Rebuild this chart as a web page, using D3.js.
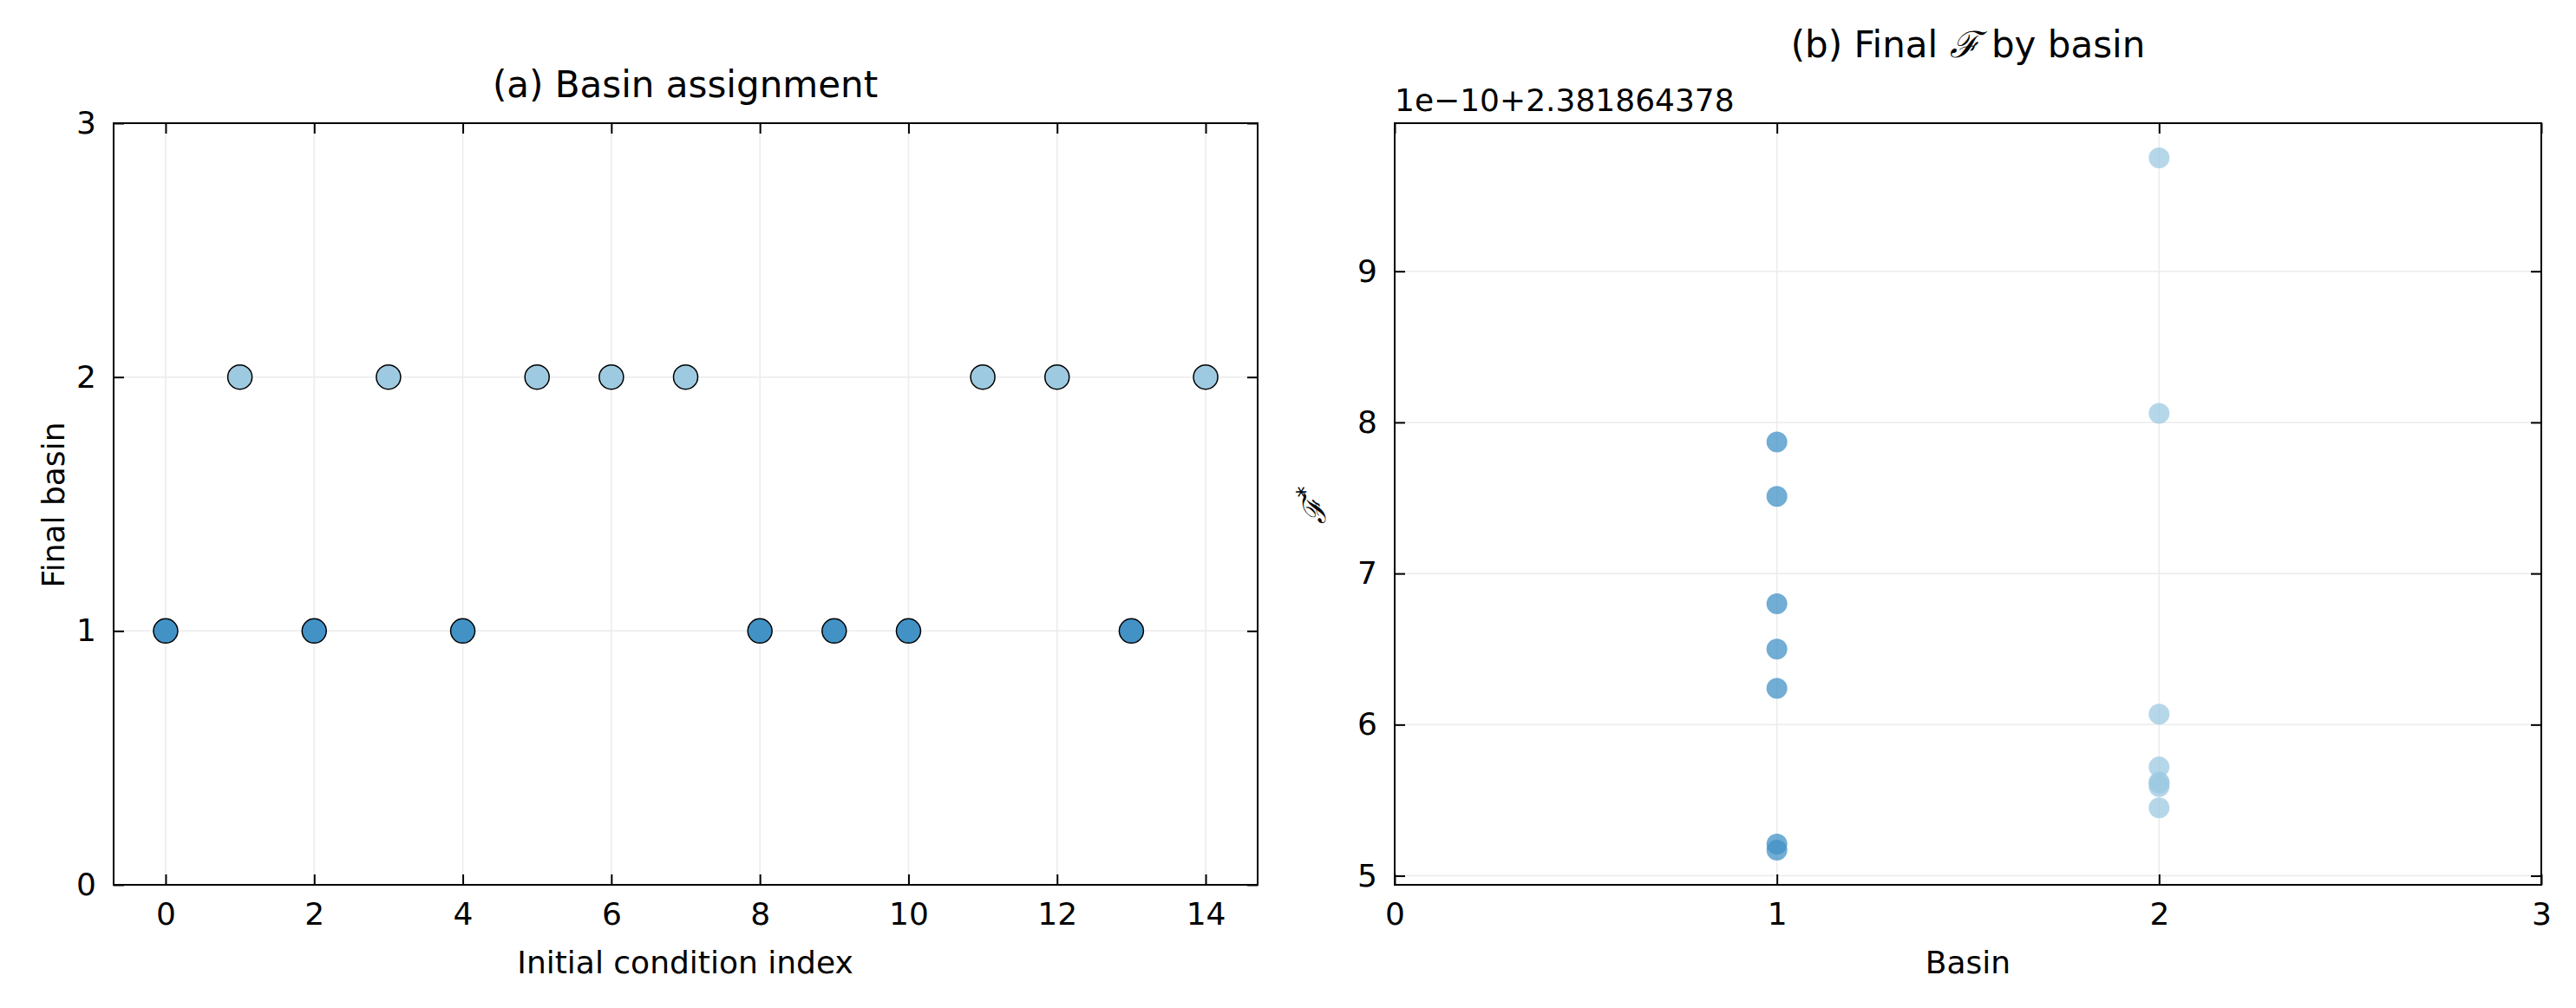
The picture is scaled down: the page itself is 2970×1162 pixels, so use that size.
<!DOCTYPE html>
<html><head><meta charset="utf-8">
<script src="https://cdn.jsdelivr.net/npm/d3@7"></script>
<style>body{margin:0;background:#fff}text{font-family:"DejaVu Sans",sans-serif;fill:#000}</style>
</head><body><svg id="c" width="2970" height="1162"></svg>
<script>
const icIndex=[0,1,2,3,4,5,6,7,8,9,10,11,12,13,14];
const finalBasin=[1,2,1,2,1,2,2,2,1,1,1,2,2,1,2];
const basin1F=[7.87,7.51,6.80,6.50,6.24,5.21,5.17];
const basin2F=[9.75,8.06,6.07,5.72,5.62,5.61,5.59,5.45];
const aXTicks=[0,2,4,6,8,10,12,14], aYTicks=[0,1,2,3];
const bXTicks=[0,1,2,3], bYTicks=[5,6,7,8,9];
const col={1:"#4292c6",2:"#9ecae1"};
const svg=d3.select("#c");
const T=142,B=1020,FS=36;
function frame(g,x,y,xt,yt){
  g.append("g").selectAll("line").data(xt).join("line").attr("x1",d=>x(d)).attr("x2",d=>x(d)).attr("y1",T).attr("y2",B).attr("stroke","#ebebeb").attr("stroke-width",1.5);
  g.append("g").selectAll("line").data(yt).join("line").attr("y1",d=>y(d)).attr("y2",d=>y(d)).attr("x1",x.range()[0]).attr("x2",x.range()[1]).attr("stroke","#ebebeb").attr("stroke-width",1.5);
}
function axes(g,x,y,xt,yt){
  const L=x.range()[0],R=x.range()[1];
  const ax=(a,tr)=>g.append("g").attr("transform",tr).call(a).call(s=>{s.select(".domain").remove();s.selectAll("line").attr("stroke","#000").attr("stroke-width",2);s.selectAll("text").attr("font-size",FS).attr("font-family","DejaVu Sans");});
  ax(d3.axisBottom(x).tickValues(xt).tickSizeInner(-12).tickPadding(20).tickFormat(d3.format("d")),`translate(0,${B})`);
  ax(d3.axisTop(x).tickValues(xt).tickSizeInner(-12).tickFormat(""),`translate(0,${T})`);
  ax(d3.axisLeft(y).tickValues(yt).tickSizeInner(-12).tickPadding(20).tickFormat(d3.format("d")),`translate(${L},0)`);
  ax(d3.axisRight(y).tickValues(yt).tickSizeInner(-12).tickFormat(""),`translate(${R},0)`);
  g.append("rect").attr("x",L).attr("y",T).attr("width",R-L).attr("height",B-T).attr("fill","none").attr("stroke","#000").attr("stroke-width",2);
}
// panel a
const xa=d3.scaleLinear().domain([-0.7,14.7]).range([131,1450]);
const ya=d3.scaleLinear().domain([0,3]).range([B,T]);
const ga=svg.append("g");
frame(ga,xa,ya,aXTicks,aYTicks);
ga.selectAll("circle").data(icIndex).join("circle").attr("cx",i=>xa(i)).attr("cy",i=>ya(finalBasin[i])).attr("r",14).attr("fill",i=>col[finalBasin[i]]).attr("stroke","#000").attr("stroke-width",1.5);
axes(ga,xa,ya,aXTicks,aYTicks);
ga.append("text").attr("x",790).attr("y",112).attr("text-anchor","middle").attr("font-size",42).text("(a) Basin assignment");
ga.append("text").attr("x",790).attr("y",1122).attr("text-anchor","middle").attr("font-size",36).text("Initial condition index");
ga.append("text").attr("transform","translate(74,582) rotate(-90)").attr("text-anchor","middle").attr("font-size",36).text("Final basin");
// panel b
const xb=d3.scaleLinear().domain([0,3]).range([1608,2930]);
const yb=d3.scaleLinear().domain([4.94,9.98]).range([B,T]);
const gb=svg.append("g");
frame(gb,xb,yb,[1,2],bYTicks);
const pts=basin1F.map(v=>({b:1,v})).concat(basin2F.map(v=>({b:2,v})));
gb.selectAll("circle").data(pts).join("circle").attr("cx",d=>xb(d.b)).attr("cy",d=>yb(d.v)).attr("r",12).attr("fill",d=>col[d.b]).attr("fill-opacity",0.75);
axes(gb,xb,yb,bXTicks,bYTicks);
gb.append("text").attr("x",2269).attr("y",66).attr("text-anchor","middle").attr("font-size",42).html('(b) Final <tspan font-family="DejaVu Serif" font-style="italic">ℱ</tspan> by basin');
gb.append("text").attr("x",1608).attr("y",128).attr("font-size",36).text("1e−10+2.381864378");
gb.append("text").attr("x",2269).attr("y",1122).attr("text-anchor","middle").attr("font-size",36).text("Basin");
gb.append("text").attr("transform","translate(1528,582) rotate(-90)").attr("text-anchor","middle").attr("font-size",36).html('<tspan font-family="DejaVu Serif" font-style="italic">ℱ</tspan><tspan dy="-14" font-size="26">*</tspan>');
</script></body></html>
